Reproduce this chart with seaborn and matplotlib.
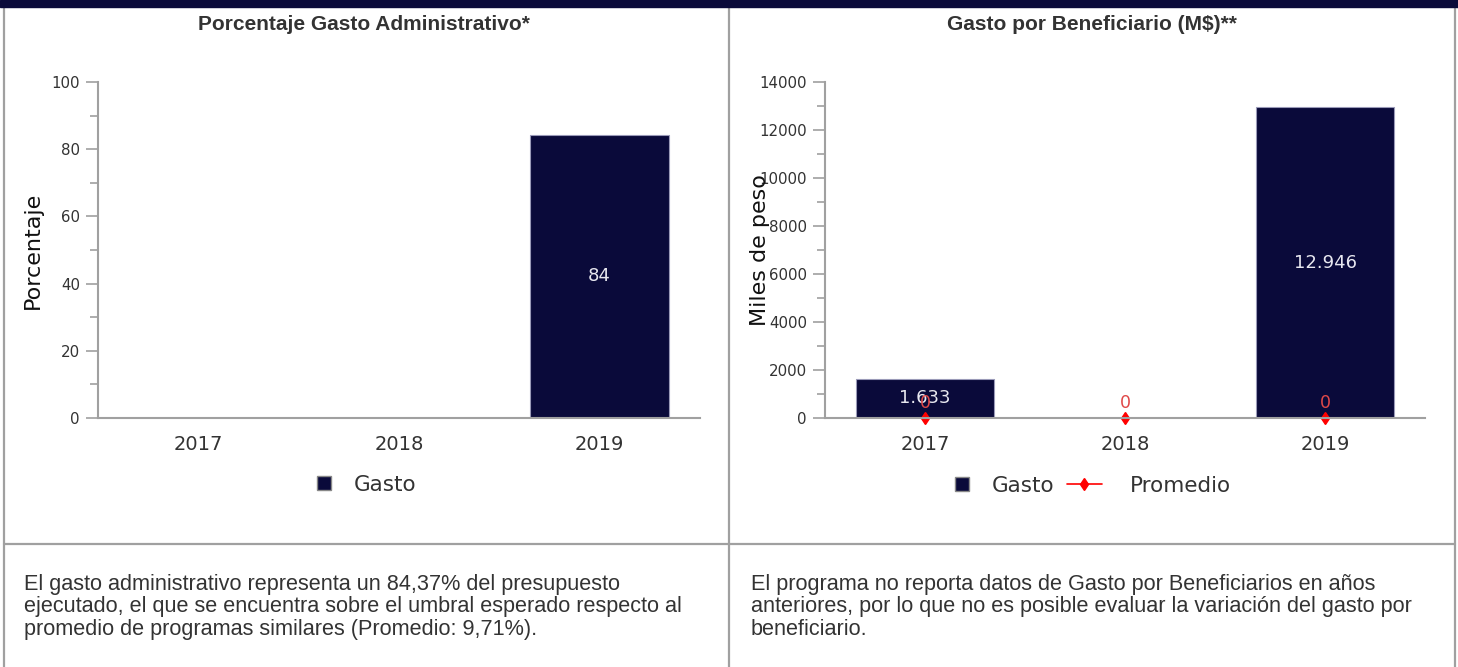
import matplotlib
matplotlib.use("Agg")
import matplotlib.pyplot as plt
import seaborn as sns
import numpy as np
from matplotlib.lines import Line2D
from matplotlib.patches import Rectangle

# ---------------- data ----------------
years = ["2017", "2018", "2019"]
gasto_admin = [0, 0, 84.37]
gasto_admin_labels = ["", "", "84"]
gasto_benef = [1633, 0, 12946]
gasto_benef_labels = ["1.633", "", "12.946"]
promedio_benef = [0, 0, 0]
promedio_labels = ["0", "0", "0"]

title_left = "Porcentaje Gasto Administrativo*"
title_right = "Gasto por Beneficiario (M$)**"
text_left = ("El gasto administrativo representa un 84,37% del presupuesto\n"
             "ejecutado, el que se encuentra sobre el umbral esperado respecto al\n"
             "promedio de programas similares (Promedio: 9,71%).")
text_right = ("El programa no reporta datos de Gasto por Beneficiarios en años\n"
              "anteriores, por lo que no es posible evaluar la variación del gasto por\n"
              "beneficiario.")

NAVY = "#0a0a3a"
RED = "#ff0000"
GRAY = "#a0a0a0"
TXT = "#333333"

sns.set_style("white")
plt.rcParams["font.family"] = ["DejaVu Sans"]

W, H = 1458, 667
fig = plt.figure(figsize=(W / 100, H / 100), dpi=100)
fig.patch.set_facecolor("white")

def fx(x):
    return x / W

def fy(y):
    return 1 - y / H

# frame / table borders
fig.add_artist(Rectangle((0, fy(7)), 1, 7 / H, transform=fig.transFigure,
                         color=NAVY, zorder=5))
for x in (4, 729, 1455):
    fig.add_artist(Line2D([fx(x), fx(x)], [0, fy(6)], transform=fig.transFigure,
                          color=GRAY, lw=1.6))
fig.add_artist(Line2D([fx(4), fx(1455)], [fy(544), fy(544)], transform=fig.transFigure,
                      color=GRAY, lw=1.6))

# axes
axL = fig.add_axes([fx(98), fy(418), fx(700) - fx(98), fy(82) - fy(418)])
axR = fig.add_axes([fx(825), fy(418), fx(1425) - fx(825), fy(82) - fy(418)])

def style_axis(ax, ymax, major, minor, ylabel):
    ax.set_ylim(0, ymax)
    ax.set_xlim(-0.5, 2.5)
    ax.set_yticks(np.arange(0, ymax + 1, major))
    ax.set_yticks(np.arange(minor, ymax, major), minor=True)
    for s in ("top", "right"):
        ax.spines[s].set_visible(False)
    for s in ("left", "bottom"):
        ax.spines[s].set_color(GRAY)
        ax.spines[s].set_linewidth(1.5)
        ax.spines[s].set_zorder(4)
    ax.tick_params(axis="y", which="major", length=9, width=1.2, color=GRAY,
                   labelsize=10.8, labelcolor=TXT, pad=4, left=True)
    ax.tick_params(axis="y", which="minor", length=6, width=1.2, color=GRAY, left=True)
    ax.tick_params(axis="x", length=0, labelsize=14, labelcolor=TXT, pad=12)
    ax.set_xlabel("")
    ax.set_ylabel(ylabel, fontsize=16, color="#111111")
    ax.yaxis.set_label_coords(-0.108, 0.5)
    ax.yaxis.label.set_va("center")
    ax.set_facecolor("white")

# left chart
sns.barplot(x=years, y=gasto_admin, color=NAVY, saturation=1, width=0.69,
            edgecolor="#9a9ab8", linewidth=0.8, ax=axL)
style_axis(axL, 100, 20, 10, "Porcentaje")
axL.bar_label(axL.containers[0], labels=gasto_admin_labels, label_type="center",
              color="#e8e8f0", fontsize=13)

# right chart
sns.barplot(x=years, y=gasto_benef, color=NAVY, saturation=1, width=0.69,
            edgecolor="#9a9ab8", linewidth=0.8, ax=axR)
axR.plot(years, promedio_benef, color=RED, lw=1.2, marker="d", markersize=6,
         clip_on=False, zorder=3)
style_axis(axR, 14000, 2000, 1000, "Miles de peso")
axR.bar_label(axR.containers[0], labels=gasto_benef_labels, label_type="center",
              color="#e8e8f0", fontsize=13)
for i, lab in enumerate(promedio_labels):
    axR.annotate(lab, (i, promedio_benef[i]), xytext=(0, 7.5), textcoords="offset points",
                 ha="center", va="baseline", color="#e04848", fontsize=12.5, zorder=7)

# legends
h_gasto = Line2D([], [], marker="s", linestyle="none", markersize=10,
                 markerfacecolor=NAVY, markeredgecolor="#888888")
h_prom = Line2D([], [], color=RED, lw=1.2, marker="d", markersize=6)
legs = []
legs.append(fig.legend([h_gasto], ["Gasto"], loc="center", bbox_to_anchor=(fx(364), fy(485)),
                       frameon=False, fontsize=15.5, handlelength=1.2, handletextpad=0.8))
legs.append(fig.legend([h_gasto], ["Gasto"], loc="center", bbox_to_anchor=(fx(1002), fy(486)),
                       frameon=False, fontsize=15.5, handlelength=1.2, handletextpad=0.8))
legs.append(fig.legend([h_prom], ["Promedio"], loc="center", bbox_to_anchor=(fx(1149), fy(486)),
                       frameon=False, fontsize=15.5, handlelength=1.6, handletextpad=1.3))
for leg in legs:
    for t in leg.get_texts():
        t.set_color(TXT)

# titles
fig.text(fx(364), fy(25), title_left, ha="center", va="center", fontsize=15,
         fontweight="bold", family=["Liberation Sans"], color=TXT)
fig.text(fx(1092), fy(25), title_right, ha="center", va="center", fontsize=15,
         fontweight="bold", family=["Liberation Sans"], color=TXT)

# bottom texts
fig.text(fx(24), fy(574), text_left, ha="left", va="top", fontsize=15.6,
         family=["Liberation Sans"], color=TXT, linespacing=1.09)
fig.text(fx(751), fy(574), text_right, ha="left", va="top", fontsize=15.6,
         family=["Liberation Sans"], color=TXT, linespacing=1.09)

fig.savefig("out.png", dpi=100, facecolor="white")
